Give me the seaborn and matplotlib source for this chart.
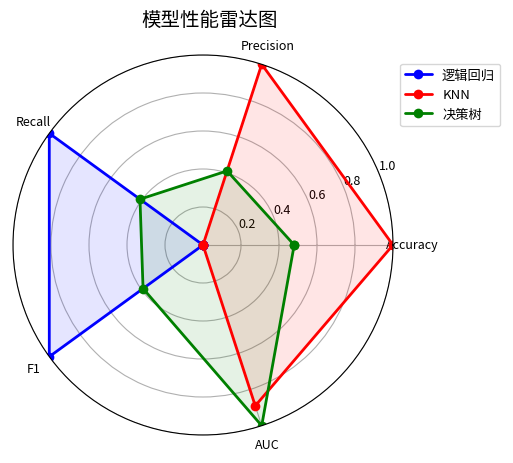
import numpy as np
import pandas as pd
import matplotlib
matplotlib.use("Agg")
import matplotlib.pyplot as plt
import seaborn as sns

sns.set_style("white")
plt.rcParams['font.family'] = ['Noto Sans CJK SC', 'DejaVu Sans']
plt.rcParams['axes.unicode_minus'] = False
plt.rcParams['text.color'] = 'black'
plt.rcParams['xtick.color'] = 'black'
plt.rcParams['ytick.color'] = 'black'
plt.rcParams['axes.labelcolor'] = 'black'

categories = ["Accuracy", "Precision", "Recall", "F1", "AUC"]
models = ["逻辑回归", "KNN", "决策树"]
logreg = [0.0, 0.0, 1.0, 1.0, 0.0]
knn = [1.0, 1.0, 0.0, 0.0, 0.89]
tree = [0.48, 0.41, 0.41, 0.39, 1.0]
colors = ["blue", "red", "green"]
rticks = [0.2, 0.4, 0.6, 0.8, 1.0]

series = [logreg, knn, tree]
n = len(categories)
angles = np.linspace(0, 2 * np.pi, n, endpoint=False)

rows = []
for m, vals in zip(models, series):
    for i in range(n + 1):
        rows.append({"model": m, "theta": angles[i % n] if i < n else 2 * np.pi,
                     "value": vals[i % n], "order": i})
df = pd.DataFrame(rows)

fig = plt.figure(figsize=(5.13, 4.64), dpi=100)
ax = fig.add_axes([13 / 513, 1 - 436 / 464, 380 / 513, 380 / 464], projection="polar")

sns.lineplot(data=df, x="theta", y="value", hue="model", hue_order=models,
             palette=colors, sort=False, marker="o", markersize=7,
             markeredgewidth=0, linewidth=2, ax=ax, estimator=None)
for m, c in zip(models, colors):
    sub = df[df["model"] == m]
    ax.fill(sub["theta"], sub["value"], color=c, alpha=0.1)

ax.set_xticks(angles)
ax.set_xticklabels(categories, fontsize=9, color="black")
ax.set_ylim(0, 1.0)
ax.set_yticks(rticks)
ax.set_yticklabels([f"{t:.1f}" for t in rticks], fontsize=9, color="black")
ax.set_rlabel_position(22.5)
ax.grid(True, color="#b0b0b0", linewidth=0.8)
ax.set_xlabel("")
ax.set_ylabel("")
ax.spines["polar"].set_color("black")

fig.text(210 / 513, 1 - 20 / 464, "模型性能雷达图", fontsize=14, ha="center", va="center",
         color="black")

handles, labels = ax.get_legend_handles_labels()
leg = ax.legend(handles, labels, loc="upper right", bbox_to_anchor=(507 / 513, 1 - 58 / 464),
                bbox_transform=fig.transFigure, fontsize=9.5, frameon=True)
for t in leg.get_texts():
    t.set_color("black")

fig.savefig("out.png", dpi=100)
